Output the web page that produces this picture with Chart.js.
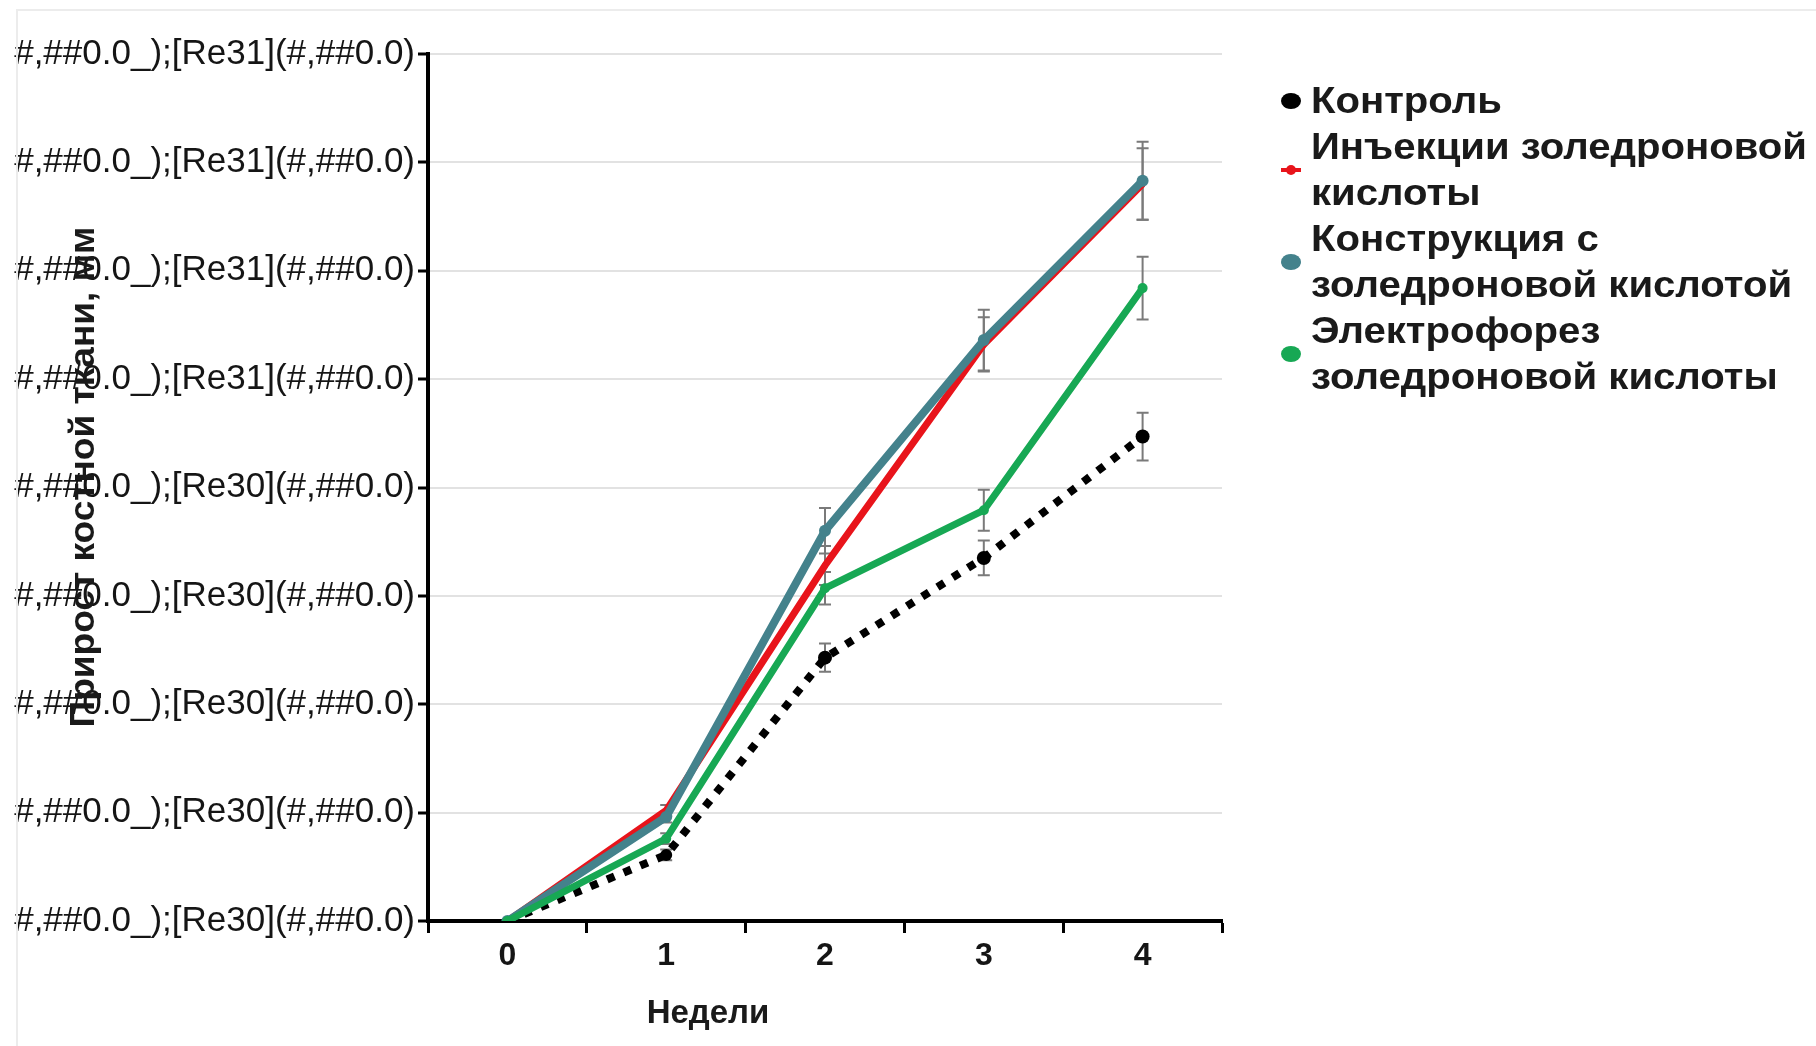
<!DOCTYPE html>
<html>
<head>
<meta charset="utf-8">
<script src="https://cdn.jsdelivr.net/npm/chart.js@4.4.1/dist/chart.umd.min.js"></script>
<style>
    body { margin: 0; background: #fff; }
    #wrap { position: relative; width: 1816px; height: 1046px; overflow: hidden; }
    #frame { position: absolute; left: 16px; top: 9px; right: 0; bottom: 0;
             border-left: 2px solid #ececec; border-top: 2px solid #ececec; }
    #legend { position: absolute; left: 1279px; top: 78px;
              font-family: "Liberation Sans", Arial, sans-serif; font-weight: bold;
              font-size: 36px; line-height: 46px; color: #1a1a1a; }
    .item { display: flex; align-items: center; }
    .mark { position: relative; width: 24px; height: 16px; flex: none; margin-right: 8px; }
    .mark .ln { position: absolute; left: 0; right: 0; top: 6px; height: 4px; }
    .mark .dot { position: absolute; left: 2px; top: 0; width: 20px; height: 16px; border-radius: 50%; }
    .txt { white-space: nowrap; transform-origin: left center; }
</style>
</head>
<body>
<div id="wrap">
    <div id="frame"></div>
    <canvas id="chart" width="1816" height="1046"></canvas>
    <div id="legend"></div>
</div>
<script>
// weeks on the x axis
const weeks = [0, 1, 2, 3, 4];

// bone growth per group (one grid step = 1 unit)
const control   = [0, 0.61, 2.43, 3.35, 4.47];
const injection = [0, 1.02, 3.28, 5.32, 6.80];
const construct = [0, 0.96, 3.60, 5.36, 6.83];
const electro   = [0, 0.76, 3.07, 3.79, 5.84];

// error bar half-heights
const controlErr   = [0, 0.05, 0.13, 0.16, 0.22];
const injectionErr = [0, 0.05, 0.18, 0.25, 0.33];
const constructErr = [0, 0.05, 0.21, 0.28, 0.36];
const electroErr   = [0, 0.05, 0.15, 0.19, 0.29];

// y tick labels, bottom to top (as exported, broken number format)
const yTickLabels = [
    '#,##0.0_);[Re30](#,##0.0)',
    '#,##0.0_);[Re30](#,##0.0)',
    '#,##0.0_);[Re30](#,##0.0)',
    '#,##0.0_);[Re30](#,##0.0)',
    '#,##0.0_);[Re30](#,##0.0)',
    '#,##0.0_);[Re31](#,##0.0)',
    '#,##0.0_);[Re31](#,##0.0)',
    '#,##0.0_);[Re31](#,##0.0)',
    '#,##0.0_);[Re31](#,##0.0)'
];

const xTitle = 'Недели';
const yTitle = 'Прирост костной ткани, мм';

const legendItems = [
    { lines: ['Контроль'], color: '#000000' },
    { lines: ['Инъекции золедроновой', 'кислоты'], color: '#e8141b', small: true },
    { lines: ['Конструкция с', 'золедроновой кислотой'], color: '#44828c' },
    { lines: ['Электрофорез', 'золедроновой кислоты'], color: '#17a854' }
];

function toPoints(values) {
    return weeks.map((w, i) => ({ x: w, y: values[i] }));
}

const errors = [controlErr, injectionErr, constructErr, electroErr];

// draw error bars through the chart scales
const errorBars = {
    id: 'errorBars',
    beforeDatasetsDraw(chart) {
        const ctx = chart.ctx;
        const xs = chart.scales.x;
        const ys = chart.scales.y;
        ctx.save();
        ctx.strokeStyle = '#7a7a7a';
        ctx.lineWidth = 2;
        chart.data.datasets.forEach((ds, d) => {
            ds.data.forEach((p, i) => {
                const e = errors[d][i];
                if (!e) return;
                const x = xs.getPixelForValue(p.x);
                const y1 = ys.getPixelForValue(p.y + e);
                const y2 = ys.getPixelForValue(p.y - e);
                ctx.beginPath();
                ctx.moveTo(x, y1); ctx.lineTo(x, y2);
                ctx.moveTo(x - 6, y1); ctx.lineTo(x + 6, y1);
                ctx.moveTo(x - 6, y2); ctx.lineTo(x + 6, y2);
                ctx.stroke();
            });
        });
        ctx.restore();
    }
};

// axis titles placed like in the picture (y title overlaps the tick labels)
const axisTitles = {
    id: 'axisTitles',
    afterDraw(chart) {
        const ctx = chart.ctx;
        ctx.save();
        ctx.fillStyle = '#1a1a1a';
        ctx.font = 'bold 33px "Liberation Sans", Arial, sans-serif';
        ctx.textAlign = 'center';
        ctx.textBaseline = 'middle';
        ctx.fillText(xTitle, 708, 1014);

        ctx.translate(84, 477);
        ctx.rotate(-Math.PI / 2);
        ctx.font = 'bold 35px "Liberation Sans", Arial, sans-serif';
        const w = ctx.measureText(yTitle).width;
        ctx.scale(501 / w, 1);
        ctx.fillText(yTitle, 0, 0);
        ctx.restore();
    }
};

Chart.defaults.font.family = '"Liberation Sans", Arial, sans-serif';
Chart.defaults.color = '#151515';

const chart = new Chart(document.getElementById('chart').getContext('2d'), {
    type: 'line',
    data: {
        datasets: [
            {
                label: 'Контроль',
                data: toPoints(control),
                borderColor: '#000000',
                backgroundColor: '#000000',
                borderWidth: 8,
                borderDash: [8, 10],
                pointRadius: [0, 6, 7, 7, 7],
                pointBorderWidth: 0,
                order: 3
            },
            {
                label: 'Инъекции золедроновой кислоты',
                data: toPoints(injection),
                borderColor: '#e8141b',
                backgroundColor: '#e8141b',
                borderWidth: 7,
                pointRadius: 3,
                pointBorderWidth: 0,
                order: 2
            },
            {
                label: 'Конструкция с золедроновой кислотой',
                data: toPoints(construct),
                borderColor: '#44828c',
                backgroundColor: '#44828c',
                borderWidth: 8,
                pointRadius: 6,
                pointBorderWidth: 0,
                order: 1
            },
            {
                label: 'Электрофорез золедроновой кислоты',
                data: toPoints(electro),
                borderColor: '#17a854',
                backgroundColor: '#17a854',
                borderWidth: 7,
                pointRadius: 5,
                pointBorderWidth: 0,
                order: 0
            }
        ]
    },
    options: {
        responsive: false,
        animation: false,
        layout: { padding: { left: 0, top: 54, right: 594, bottom: 0 } },
        plugins: {
            legend: { display: false },
            tooltip: { enabled: false }
        },
        scales: {
            x: {
                type: 'linear',
                min: -0.5,
                max: 4.5,
                afterFit(scale) { scale.height = 125; },
                border: { display: true, color: '#000', width: 4 },
                grid: {
                    drawOnChartArea: false,
                    tickLength: 12,
                    tickWidth: 3,
                    tickColor: (c) => Number.isInteger(c.tick.value) ? 'rgba(0,0,0,0)' : '#000'
                },
                ticks: {
                    stepSize: 0.5,
                    autoSkip: false,
                    maxRotation: 0,
                    padding: 4,
                    font: { size: 32, weight: 'bold' },
                    callback: (v) => Number.isInteger(v) ? String(v) : ''
                }
            },
            y: {
                min: 0,
                max: 8,
                afterFit(scale) { scale.width = 428; },
                border: { display: true, color: '#000', width: 4 },
                grid: {
                    color: '#e2e2e2',
                    lineWidth: 2,
                    tickLength: 10,
                    tickWidth: 3,
                    tickColor: '#000'
                },
                ticks: {
                    stepSize: 1,
                    padding: 3,
                    font: { size: 35 },
                    callback: (v) => yTickLabels[v]
                }
            }
        }
    },
    plugins: [errorBars, axisTitles]
});

// html legend with wrapped labels
const legend = document.getElementById('legend');
legendItems.forEach((it) => {
    const row = document.createElement('div');
    row.className = 'item';
    const mark = document.createElement('div');
    mark.className = 'mark';
    const dot = document.createElement('div');
    dot.className = 'dot';
    dot.style.background = it.color;
    if (it.small) {
        const ln = document.createElement('div');
        ln.className = 'ln';
        ln.style.background = it.color;
        ln.style.left = '2px';
        ln.style.right = '2px';
        mark.appendChild(ln);
        dot.style.left = '7px'; dot.style.top = '3px'; dot.style.width = '10px'; dot.style.height = '10px';
    }
    mark.appendChild(dot);
    const txt = document.createElement('div');
    txt.className = 'txt';
    txt.innerHTML = it.lines.join('<br>');
    row.appendChild(mark);
    row.appendChild(txt);
    legend.appendChild(row);
});
// stretch legend text to the width it has in the picture
const widest = legend.children[1].querySelector('.txt');
const sx = 496 / widest.getBoundingClientRect().width;
legend.querySelectorAll('.txt').forEach((t) => { t.style.transform = `scaleX(${sx})`; });
</script>
</body>
</html>
